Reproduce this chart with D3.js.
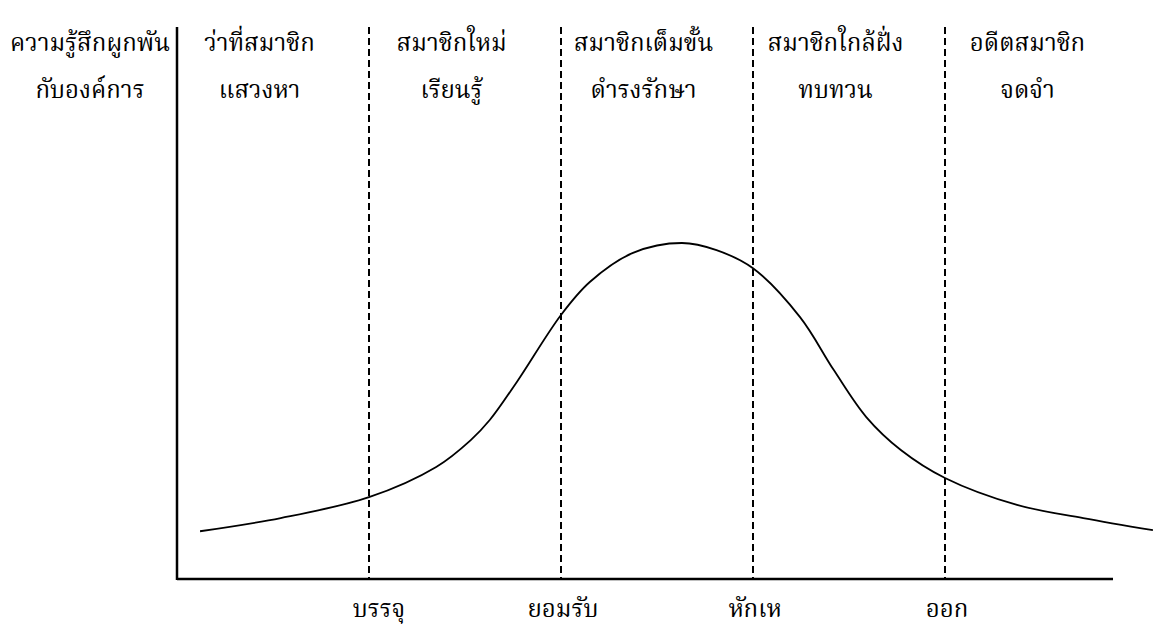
<!DOCTYPE html>
<html>
<head>
<meta charset="utf-8">
<script src="https://cdn.jsdelivr.net/npm/d3@7"></script>
<style>
  body { margin: 0; background: #fff; }
  text { font-family: "Angsana New", "Norasi", "Kinnari", "Noto Serif Thai", "Noto Sans Thai", "DejaVu Serif", serif; fill: #000; }
</style>
</head>
<body>
<div id="chart"></div>
<script>
// stage names (top labels, two lines each)
var stageLine1 = ["ว่าที่สมาชิก", "สมาชิกใหม่", "สมาชิกเต็มขั้น", "สมาชิกใกล้ฝั่ง", "อดีตสมาชิก"];
var stageLine2 = ["แสวงหา", "เรียนรู้", "ดำรงรักษา", "ทบทวน", "จดจำ"];
// transitions between stages (bottom labels)
var transitions = ["บรรจุ", "ยอมรับ", "หักเห", "ออก"];
var yTitle = ["ความรู้สึกผูกพัน", "กับองค์การ"];

// curve: stage position vs commitment (0-100)
var curveX = [0.12, 0.54, 1.0, 1.35, 1.53, 1.63, 1.77, 2.0, 2.15, 2.375, 2.63, 2.81, 3.0, 3.245, 3.42, 3.59, 3.77, 4.0, 4.375, 4.72, 5.083];
var curveY = [8.7, 11.1, 14.9, 20.4, 25.3, 29.0, 35.9, 48.1, 54.1, 59.4, 61.2, 59.9, 56.6, 47.7, 38.1, 29.5, 23.5, 18.4, 13.5, 11.1, 8.9];

var W = 1153, H = 632;
var svg = d3.select("#chart").append("svg")
    .attr("width", W)
    .attr("height", H);

// scales
var x = d3.scaleLinear().domain([0, 5]).range([177, 1137]);
var y = d3.scaleLinear().domain([0, 100]).range([579, 30]);
var xAxisEnd = 4.875;

// dashed stage boundaries
svg.selectAll(".bound")
    .data(transitions)
    .enter()
    .append("line")
    .attr("class", "bound")
    .attr("x1", function(d, i) { return x(i + 1); })
    .attr("x2", function(d, i) { return x(i + 1); })
    .attr("y1", y(100) - 3)
    .attr("y2", y(0))
    .attr("stroke", "#000")
    .attr("stroke-width", 2)
    .attr("stroke-dasharray", "7,4");

// axes
svg.append("line")
    .attr("x1", x(0)).attr("x2", x(0))
    .attr("y1", y(100) - 3).attr("y2", y(0) + 1)
    .attr("stroke", "#000").attr("stroke-width", 2.5);
svg.append("line")
    .attr("x1", x(0)).attr("x2", x(xAxisEnd))
    .attr("y1", y(0)).attr("y2", y(0))
    .attr("stroke", "#000").attr("stroke-width", 2.5);

// the curve
var pts = curveX.map(function(v, i) { return [v, curveY[i]]; });
var line = d3.line()
    .x(function(d) { return x(d[0]); })
    .y(function(d) { return y(d[1]); })
    .curve(d3.curveCatmullRom.alpha(0.5));
svg.append("path")
    .datum(pts)
    .attr("d", line)
    .attr("fill", "none")
    .attr("stroke", "#000")
    .attr("stroke-width", 1.8);

var fs = 24;

// y title
svg.selectAll(".ytitle")
    .data(yTitle)
    .enter()
    .append("text")
    .attr("x", 90)
    .attr("y", function(d, i) { return 51 + i * 47; })
    .attr("text-anchor", "middle")
    .style("font-size", fs + "px")
    .text(function(d) { return d; });

// stage labels
[stageLine1, stageLine2].forEach(function(arr, row) {
  svg.selectAll(".stage" + row)
      .data(arr)
      .enter()
      .append("text")
      .attr("x", function(d, i) { return x(i + 0.43); })
      .attr("y", 51 + row * 47)
      .attr("text-anchor", "middle")
      .style("font-size", fs + "px")
      .text(function(d) { return d; });
});

// transition labels
svg.selectAll(".trans")
    .data(transitions)
    .enter()
    .append("text")
    .attr("x", function(d, i) { return x(i + 1) + (i === 0 ? 10 : 2); })
    .attr("y", 617)
    .attr("text-anchor", "middle")
    .style("font-size", fs + "px")
    .text(function(d) { return d; });
</script>
</body>
</html>
